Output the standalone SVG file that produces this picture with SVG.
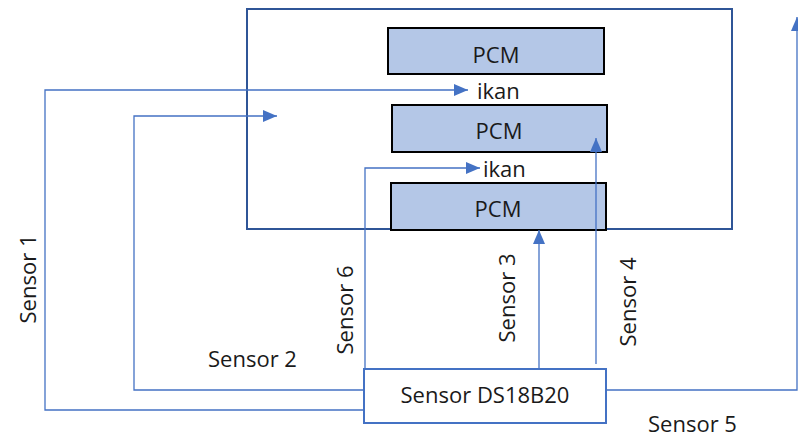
<svg xmlns="http://www.w3.org/2000/svg" width="798" height="438" viewBox="0 0 798 438">
<style>
text{font-family:"Open Sans","Liberation Sans",sans-serif;font-size:22px;fill:#1a1a1a}
.c{text-anchor:middle}
.pcm{fill:#b4c7e7;stroke:#000;stroke-width:2}
.ln{fill:none;stroke:#4472c4;stroke-width:1.3}
</style>
<defs>
<marker id="ah" markerUnits="userSpaceOnUse" markerWidth="14" markerHeight="12" refX="14" refY="6" orient="auto">
<path d="M0,0 L14,6 L0,12 z" fill="#4472c4"/>
</marker>
</defs>
<rect width="798" height="438" fill="#fff"/>
<g id="container">
<rect x="247" y="9" width="485" height="220" fill="#fff" stroke="#2f5597" stroke-width="2"/>
</g>
<g id="pcm1"><rect class="pcm" x="388" y="28" width="216" height="46"/><text class="c" x="496" y="63">PCM</text></g>
<g id="ikan1"><text x="477" y="99">ikan</text></g>
<g id="pcm2"><rect class="pcm" x="392" y="105" width="215" height="47"/><text class="c" x="499" y="139">PCM</text></g>
<g id="ikan2"><text x="483" y="177">ikan</text></g>
<g id="pcm3"><rect class="pcm" x="391" y="183" width="215" height="47"/><text class="c" x="498" y="217">PCM</text></g>
<g id="sensor"><rect x="364" y="369" width="242" height="54" fill="#fff" stroke="#4472c4" stroke-width="2"/><text class="c" x="485" y="403">Sensor DS18B20</text></g>
<g id="connectors">
<path class="ln" d="M364,410 H45 V90 H468" marker-end="url(#ah)"/>
<path class="ln" d="M364,390 H134 V116 H277" marker-end="url(#ah)"/>
<path class="ln" d="M365,369 V168 H480" marker-end="url(#ah)"/>
<path class="ln" d="M539,369 V230" marker-end="url(#ah)"/>
<path class="ln" d="M596,364 V138" marker-end="url(#ah)"/>
<path class="ln" d="M606,390 H797 V17" marker-end="url(#ah)"/>
</g>
<g id="labels">
<text class="c" transform="translate(36,279) rotate(-90)">Sensor 1</text>
<text x="208" y="367">Sensor 2</text>
<text class="c" transform="translate(515,298) rotate(-90)">Sensor 3</text>
<text class="c" transform="translate(636,302) rotate(-90)">Sensor 4</text>
<text x="648" y="432">Sensor 5</text>
<text class="c" transform="translate(353,310) rotate(-90)">Sensor 6</text>
</g>
</svg>
